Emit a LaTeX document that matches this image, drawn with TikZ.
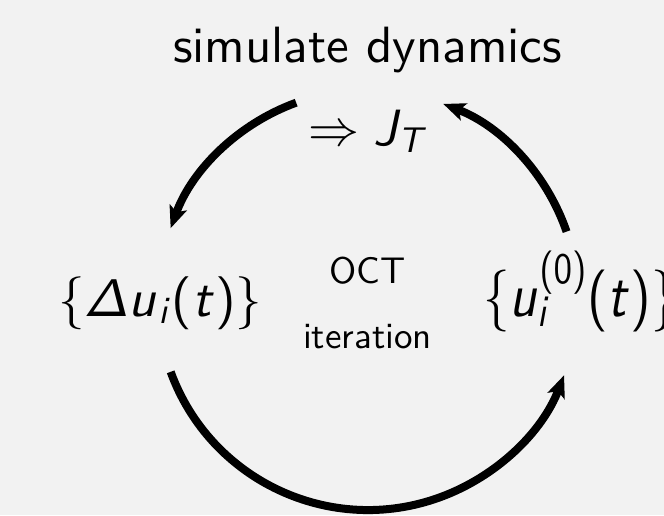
\documentclass[tikz,border=0pt]{standalone}
\usepackage[no-math]{fontspec}
\setsansfont{lmsans10-regular.otf}
\usetikzlibrary{arrows.meta}
\DeclareFontFamily{OT1}{cmssx}{}
\DeclareFontShape{OT1}{cmssx}{m}{n}{<->cmss10}{}
\DeclareFontShape{OT1}{cmssx}{m}{sl}{<->cmssi10}{}
\DeclareFontFamily{OMS}{cmsyx}{\skewchar\font48}
\DeclareFontShape{OMS}{cmsyx}{m}{n}{<->cmsy10}{}
\DeclareSymbolFont{symbols}{OMS}{cmsyx}{m}{n}
\DeclareSymbolFont{operators}{OT1}{cmssx}{m}{n}
\DeclareMathAlphabet{\mathsfit}{OT1}{cmssx}{m}{sl}
\definecolor{bgcol}{RGB}{242,242,242}
\tikzset{
  cyclearrow/.style={line width=8pt, -{Stealth[length=22pt,width=18pt,inset=5pt]}},
  bigtext/.style={inner sep=0pt, font=\sffamily\fontsize{51}{60}\selectfont},
  mathtext/.style={inner sep=0pt, font=\fontsize{51}{60}\selectfont},
  sidetext/.style={inner sep=0pt, font=\fontsize{53}{62}\selectfont},
  midtext/.style={inner sep=0pt, font=\sffamily\fontsize{37}{44}\selectfont},
}
\begin{document}
\begin{tikzpicture}[x=1pt,y=-1pt]
\fill[bgcol] (0,0) rectangle (664,515);
\useasboundingbox (0,0) rectangle (664,515);
\coordinate (o) at (368,300);
\path (o) ++(-110:210) coordinate (p1);
\path (o) ++(-19:210) coordinate (p2);
\path (o) ++(-200:210) coordinate (p3);
\node[bigtext, anchor=base] (title) at (367.5,62) {simulate dynamics};
\node[mathtext, anchor=base] (jt) at (368,145) {$\Rightarrow \mathsfit{J}_{\mathsfit{T}}$};
\node[sidetext, anchor=base west] (du) at (58,316) {$\{\mathsfit{\Delta u}_{\mathsfit{i}}(\mathsfit{t})\}$};
\node[sidetext, anchor=base west] (u0) at (483,316) {\scalebox{1}[1.17]{$\{\mathsfit{u}_{\mathsfit{i}}^{(0)}(\mathsfit{t})\}$}};
\node[midtext, anchor=base] (oct) at (367.5,283) {OCT};
\node[midtext, anchor=base] (iter) at (367.5,348) {iteration};
\draw[cyclearrow] (p1) arc[start angle=-110, end angle=-160, radius=210];
\draw[cyclearrow] (p2) arc[start angle=-19, end angle=-69, radius=210];
\draw[cyclearrow] (p3) arc[start angle=-200, end angle=-339, radius=210];
\end{tikzpicture}
\end{document}
